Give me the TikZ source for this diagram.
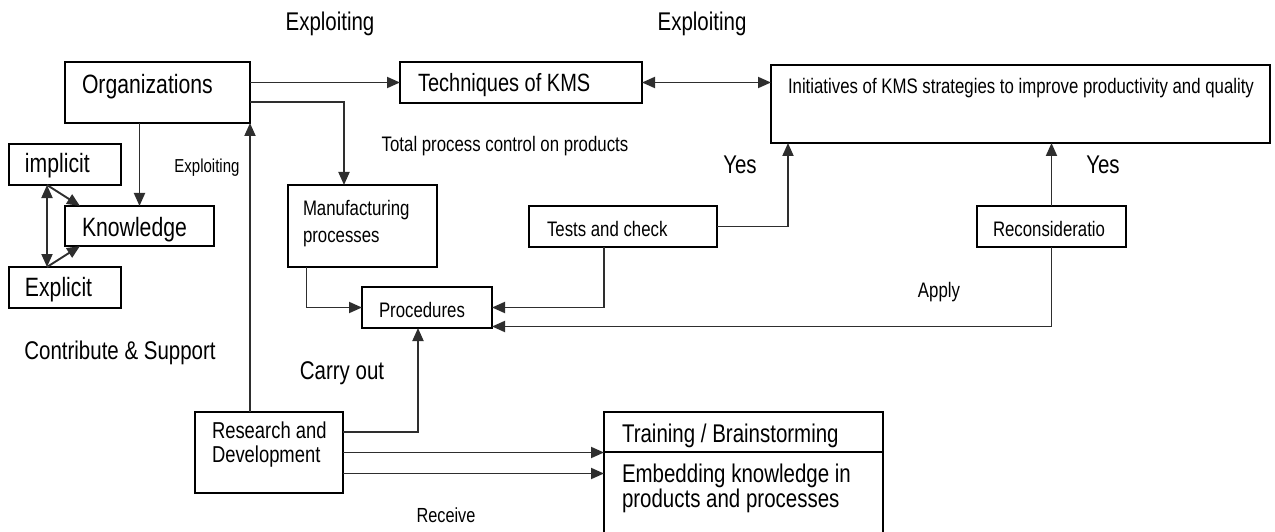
\documentclass[tikz,border=0pt]{standalone}
\usepackage{fontspec}
\setmainfont[FakeStretch=0.8]{Liberation Sans}
\usetikzlibrary{arrows.meta,calc}
\newcommand\bt[5]{\parbox[b][#2pt][t]{#1pt}{\leftskip=#3pt\rightskip=0pt plus 1fil\parfillskip=0pt plus 1fil\noindent\rule{0pt}{#4pt}#5\par}}
\newcommand\fsz[2]{\fontsize{#1}{#2}\selectfont}
\begin{document}
\begin{tikzpicture}[x=1pt,y=-1pt,
  box/.style={draw, line width=1.8pt, inner sep=0pt, outer sep=0pt, anchor=north west},
  conn/.style={line width=1.9pt, draw=black!82},
  arr/.style={conn, -{Triangle[length=13pt,width=11pt]}},
  dbl/.style={conn, {Triangle[length=13pt,width=11pt]}-{Triangle[length=13pt,width=11pt]}},
  lbl/.style={inner sep=0pt, anchor=base},
  fH/.style={font=\fsz{26.5}{28}},
  fB/.style={font=\fsz{25.6}{25}},
  fS/.style={font=\fsz{21}{27}},
  fR/.style={font=\fsz{23}{24}},
  fT/.style={font=\fsz{18.75}{22}}
]
\useasboundingbox (0,0) rectangle (1275,532);
% boxes
\node[box,fH] (org) at (65,62) {\bt{185}{61}{17}{32}{Organizations}};
\node[box,fH] (impl) at (9,144) {\bt{112}{41}{16}{29}{implicit}};
\node[box,fH] (know) at (65,206) {\bt{149}{40}{17}{30}{Knowledge}};
\node[box,fH] (expl) at (9,267) {\bt{112}{41}{16}{29}{Explicit}};
\node[box,font=\fsz{25}{25}] (tech) at (400,62) {\bt{242}{41}{18}{30}{\mbox{Techniques of KMS}}};
\node[box,fS] (init) at (771,65) {\bt{499}{78}{17}{28}{\mbox{Initiatives of KMS strategies to improve productivity and quality}}};
\node[box,fS] (manuf) at (288,185) {\bt{149}{82}{15}{30}{Manufacturing\\processes}};
\node[box,fS] (proc) at (362,287) {\bt{130}{41}{17}{30}{Procedures}};
\node[box,fS] (tests) at (529,206) {\bt{188}{41}{18}{30}{\mbox{Tests and check}}};
\node[box,fS] (recon) at (977,206) {\bt{149}{41}{16}{30}{Reconsideratio}};
\node[box,fR] (rd) at (195,412) {\bt{148}{81}{17}{26}{Research and\\Development}};
\node[box,fB] (train) at (604,412) {\bt{279}{40}{18}{30}{\mbox{Training / Brainstorming}}};
\node[box,fB] (embed) at (604,452) {\bt{279}{93}{18}{30}{Embedding knowledge in\\products and processes}};
% labels
\node[lbl,fB] (ex1) at (330,31) {Exploiting};
\node[lbl,fB] (ex2) at (702,31) {Exploiting};
\node[lbl,fT] (ex3) at (207,173) {Exploiting};
\node[lbl,fS] (tpc) at (505,152) {Total process control on products};
\node[lbl,fB] (yes1) at (740,174) {Yes};
\node[lbl,fB] (yes2) at (1103,174) {Yes};
\node[lbl,fS] (apply) at (939,297) {Apply};
\node[lbl,fB] (contrib) at (120,359) {Contribute \& Support};
\node[lbl,fB] (carry) at (342,379) {Carry out};
\node[lbl,font=\fsz{20.4}{24}] (recv) at (446,522) {Receive};
% connectors
\draw[arr] (org.east |- tech.west) -- (tech.west);
\draw[arr] ([yshift=-9.5pt]org.east) -| ([xshift=-18.5pt]manuf.north);
\draw[dbl] (tech.east) -- (tech.east -| init.west);
\draw[arr] (know.north |- org.south) -- (know.north);
\draw[dbl] ([xshift=-18pt]impl.south) -- ([xshift=-18pt]expl.north);
\draw[arr] ([xshift=-18pt]impl.south) -- ([xshift=15pt]know.north west);
\draw[arr] ([xshift=-18pt]expl.north) -- ([xshift=15pt]know.south west);
\draw[arr] (rd.north -| org.south east) -- (org.south east);
\draw[arr] ([xshift=-56pt]manuf.south) |- (proc.west);
\draw[arr] ([xshift=-19pt]tests.south) |- (proc.east);
\draw[arr] (tests.east) -| ([xshift=17pt]init.south west);
\draw[arr] (recon.north) -- (recon.north |- init.south);
\draw[arr] (recon.south) |- ([yshift=1.5pt]proc.south east);
\draw[arr] ([yshift=20.5pt]rd.east) -| ([xshift=-9pt]proc.south);
\draw[arr] (rd.east) -- (rd.east -| train.west);
\path ([yshift=-21pt]rd.east) coordinate (rdlow);
\draw[arr] (rdlow) -- (rdlow -| embed.west);
\end{tikzpicture}
\end{document}
